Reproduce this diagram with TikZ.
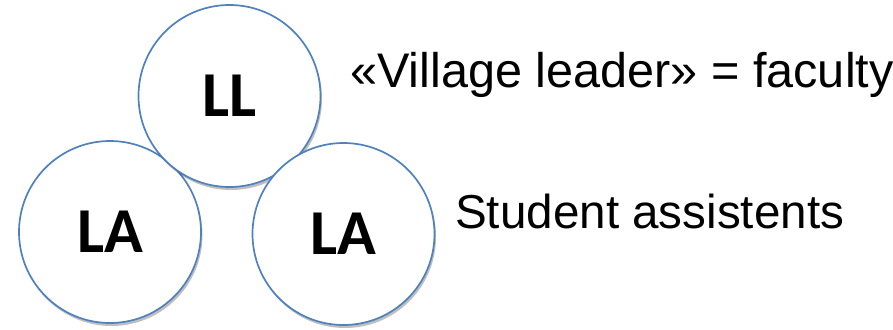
\documentclass[tikz,border=0pt]{standalone}
\usepackage{fontspec}
\setmainfont{Liberation Sans}
\newfontfamily\labelfont{Carlito}
\usetikzlibrary{shadows}
\definecolor{ringblue}{HTML}{4F81BD}

\begin{document}
\begin{tikzpicture}[
    x=1pt, y=-1pt,
    role/.style={circle, draw=ringblue, line width=1.7pt, fill=white,
        minimum size=182pt, inner sep=0pt,
        font=\labelfont\bfseries\fontsize{64}{64}\selectfont,
        drop shadow={shadow xshift=1.5pt, shadow yshift=-3pt, fill=black, opacity=0.25}},
    caption/.style={anchor=base west, inner sep=0pt, font=\fontsize{47.6}{48}\selectfont}
]
\useasboundingbox (0,0) rectangle (893,329);

\node[role] (leftla) at (110,232) {LA};
\node[role] (ll) at (229.5,96) {LL};
\node[role] (rightla) at (343.5,234) {LA};

\node[caption, font=\fontsize{48.6}{49}\selectfont] (villageleader) at (350,87) {«Village leader» = faculty};
\node[caption] (students) at (455,228) {Student assistents};

\end{tikzpicture}
\end{document}
